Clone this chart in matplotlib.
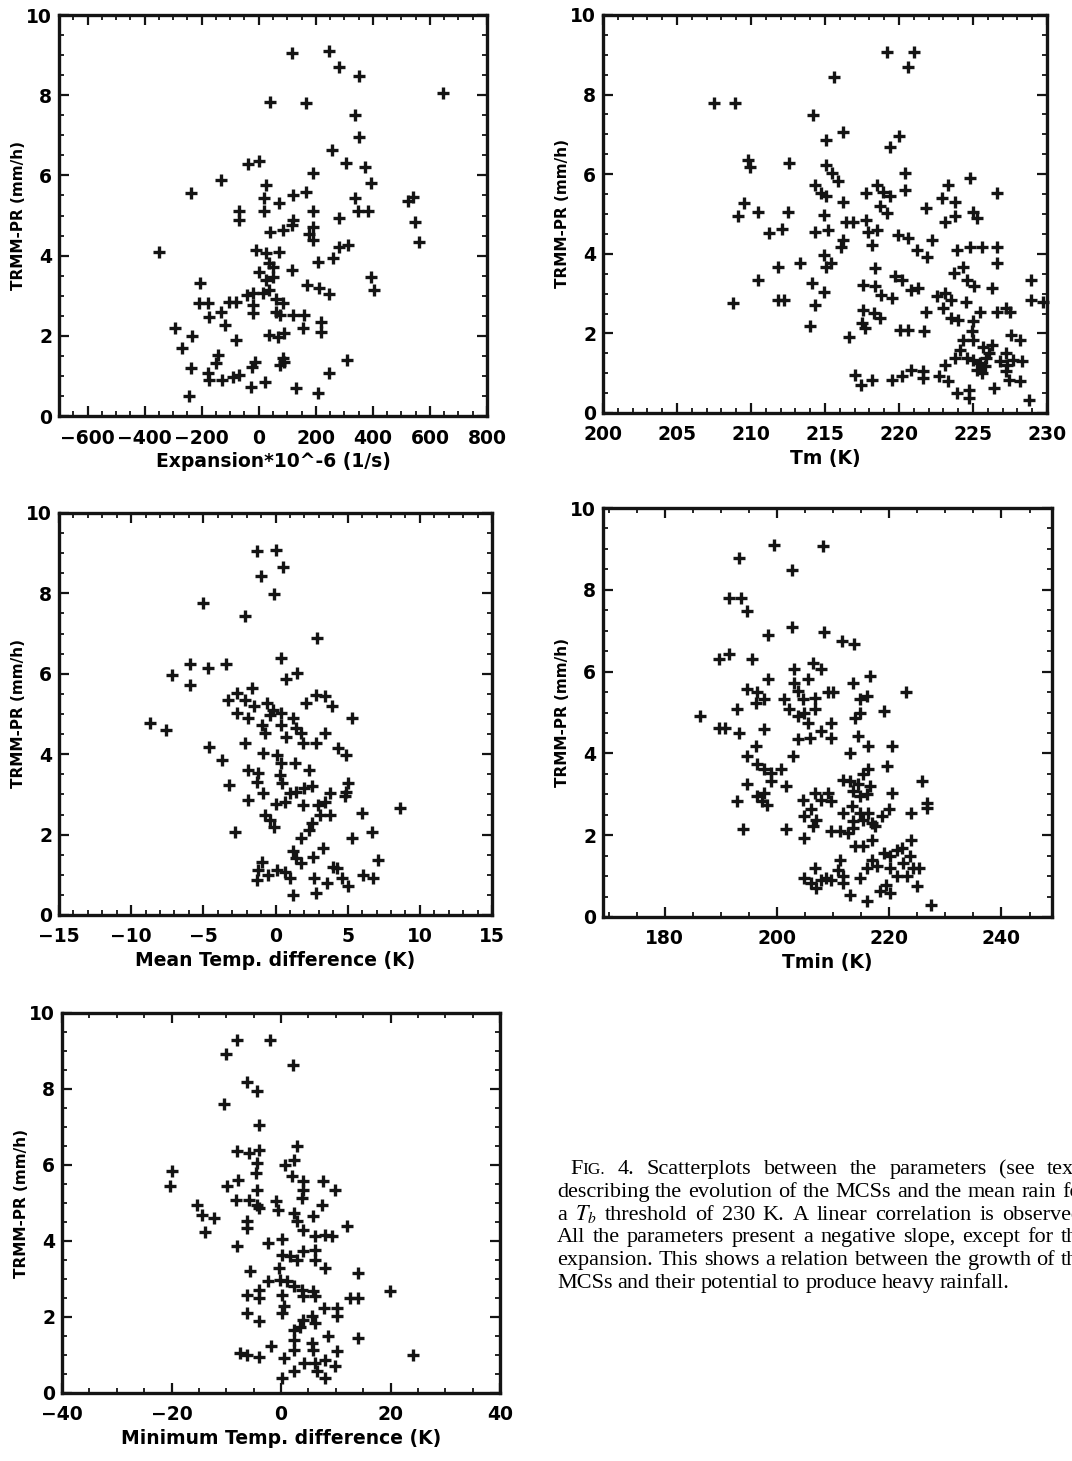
import numpy as np
import matplotlib
matplotlib.use("Agg")
import matplotlib.pyplot as plt
from matplotlib.ticker import MultipleLocator

# ---- data ----
# panel a: expansion rate vs rain
exp_x = [117, 248, 280, 351, 646, 40, 164, 336, 353, 257, 307, 373, -39, 0, -132, -238,
         189, 394, 26, 119, 164, 336, 347, 383, 523, 541, 547, 562, -68, -68, 20, 20,
         70, 119, 117, 189, 189, 177, 189, 283, 283, 312, 260, 207, 40, 84, -349, -9,
         26, 70, 35, 49, 0, 115, 26, 49, 169, 211, 246, 394, 405, -205, -208, -179,
         -173, -132, -103, -80, -42, -21, 14, 35, 61, 84, -21, -21, 61, 73, 119, 160,
         154, 218, 218, -117, -293, -234, -269, -80, 37, 67, 90, -144, -150, -238, -179,
         -173, -129, -91, -68, -23, -12, 84, 76, 90, 23, -27, -243, 129, 207, 248, 310]
exp_y = [9.04, 9.09, 8.7, 8.48, 8.05, 7.84, 7.81, 7.5, 6.95, 6.63, 6.3, 6.22, 6.28, 6.37,
         5.89, 5.55, 6.05, 5.8, 5.76, 5.51, 5.59, 5.43, 5.1, 5.1, 5.35, 5.47, 4.85, 4.35,
         5.1, 4.89, 5.43, 5.1, 5.3, 4.89, 4.76, 5.1, 4.72, 4.55, 4.39, 4.93, 4.22, 4.26,
         3.93, 3.85, 4.6, 4.64, 4.1, 4.14, 4.06, 4.1, 3.81, 3.72, 3.6, 3.64, 3.39, 3.47,
         3.27, 3.18, 3.04, 3.47, 3.14, 3.31, 2.81, 2.81, 2.48, 2.6, 2.85, 2.85, 3.02, 3.06,
         3.06, 3.14, 2.93, 2.81, 2.77, 2.56, 2.6, 2.52, 2.52, 2.52, 2.19, 2.35, 2.1, 2.27,
         2.19, 2.0, 1.69, 1.9, 2.02, 1.98, 2.06, 1.52, 1.31, 1.19, 1.06, 0.9, 0.9, 0.98,
         1.02, 1.23, 1.35, 1.44, 1.27, 1.35, 0.86, 0.73, 0.5, 0.69, 0.57, 1.06, 1.4]

# panel b: mean brightness temperature Tm
tm_x = [207.5, 208.9, 215.6, 219.2, 221.0, 220.6, 214.2, 215.1, 216.2, 219.4, 220.0, 209.8,
        209.9, 212.6, 215.1, 215.5, 215.9, 214.3, 214.7, 215.1, 216.2, 217.8, 218.5, 218.9,
        219.4, 218.7, 219.2, 220.4, 220.4, 221.8, 222.9, 223.3, 223.8, 224.8, 226.6, 225.0,
        225.3, 223.1, 223.8, 209.5, 209.1, 210.5, 212.5, 211.2, 212.1, 214.9, 214.3, 215.2,
        216.4, 216.9, 216.2, 216.1, 217.8, 217.9, 218.5, 218.2, 219.9, 220.6, 221.2, 221.9,
        222.2, 223.9, 224.8, 225.6, 226.6, 214.9, 215.4, 215.1, 213.3, 211.8, 210.5, 211.8,
        212.2, 208.8, 214.1, 214.9, 214.3, 214.0, 216.6, 218.4, 217.6, 218.4, 218.8, 219.5,
        219.7, 220.2, 220.8, 221.3, 217.6, 217.5, 217.7, 218.3, 218.7, 220.1, 220.6, 221.7,
        221.8, 222.6, 223.1, 223.5, 223.0, 223.7, 224.3, 224.6, 225.1, 226.3, 226.6, 223.5,
        224.0, 224.5, 225.0, 225.5, 226.6, 227.2, 227.5, 224.9, 224.3, 225.0, 225.7, 226.3,
        227.6, 228.2, 224.1, 223.8, 224.6, 225.0, 225.5, 225.8, 225.9, 226.1, 225.3, 225.6,
        227.2, 226.8, 227.3, 227.7, 228.3, 227.2, 227.4, 228.2, 223.1, 222.7, 223.3, 223.9,
        224.7, 224.7, 226.4, 228.8, 228.9, 228.9, 229.7, 217.0, 217.4, 218.2, 219.5, 220.2,
        220.8, 221.6, 221.6]
tm_y = [7.78, 7.78, 8.45, 9.08, 9.08, 8.7, 7.49, 6.85, 7.07, 6.69, 6.95, 6.36, 6.19, 6.28,
        6.23, 6.03, 5.82, 5.73, 5.52, 5.44, 5.31, 5.52, 5.73, 5.56, 5.44, 5.19, 5.02, 6.03,
        5.61, 5.15, 5.4, 5.73, 5.31, 5.9, 5.52, 5.06, 4.9, 4.81, 4.95, 5.27, 4.94, 5.06,
        5.06, 4.52, 4.62, 4.98, 4.56, 4.6, 4.81, 4.81, 4.35, 4.18, 4.85, 4.56, 4.6, 4.23,
        4.48, 4.39, 4.1, 3.93, 4.35, 4.1, 4.18, 4.18, 4.18, 3.97, 3.77, 3.68, 3.77, 3.68,
        3.35, 2.85, 2.85, 2.76, 3.26, 3.05, 2.72, 2.18, 1.92, 3.64, 3.22, 3.18, 2.97, 2.89,
        3.43, 3.35, 3.1, 3.14, 2.59, 2.26, 2.13, 2.51, 2.38, 2.09, 2.09, 2.05, 2.55, 2.93,
        3.01, 2.85, 2.64, 3.51, 3.68, 3.35, 3.18, 3.14, 3.77, 2.38, 2.34, 2.8, 2.3, 2.55,
        2.55, 2.64, 2.55, 2.05, 1.84, 1.84, 1.67, 1.72, 1.97, 1.84, 1.59, 1.38, 1.38, 1.34,
        1.26, 1.17, 1.38, 1.51, 1.09, 1.0, 1.51, 1.3, 1.21, 1.34, 1.3, 1.05, 0.84, 0.8,
        1.21, 0.92, 0.8, 0.5, 0.59, 0.38, 0.63, 0.33, 3.35, 2.85, 2.8, 0.96, 0.71, 0.84,
        0.84, 0.92, 1.09, 1.05, 0.88]

# panel c: mean temperature difference
dtm_x = [-1.3, 0.0, 0.55, -1.0, -0.1, -5.0, -2.1, 2.9, 0.4, -5.9, -4.7, -3.4, -7.2, -5.9,
         0.75, 1.5, -3.3, -2.7, -1.65, -2.7, -2.1, -1.5, -0.6, -0.15, 0.4, -0.4, 1.2, 2.1,
         2.8, 3.4, 3.9, 5.3, -1.9, -0.95, -0.7, 0.35, 0.75, 1.45, 1.8, 1.9, 2.8, 3.4, -8.7,
         -7.6, -4.6, -3.7, -2.1, 4.3, 4.9, -0.85, 0.1, 0.4, 1.35, 2.35, -1.9, -1.2, -1.3,
         0.3, 0.45, -3.25, 5.05, 4.9, 4.8, -0.85, -1.9, 1.0, 1.45, 2.0, 2.5, 3.8, 3.4, 0.65,
         0.0, 1.9, 2.95, 3.8, 3.05, -0.7, -0.35, -0.1, 2.5, 2.3, 1.8, 6.0, 6.7, 5.3, -2.8,
         8.65, 1.2, 1.45, 1.8, 2.6, 3.3, 4.0, -0.95, -1.2, -1.3, -0.5, 0.1, 0.65, 1.0, 1.2,
         2.7, 2.8, 3.6, 4.6, 5.05, 6.05, 6.75, 7.1, 4.25]
dtm_y = [9.05, 9.07, 8.66, 8.44, 7.99, 7.76, 7.43, 6.89, 6.39, 6.24, 6.14, 6.24, 5.98, 5.73,
         5.87, 6.02, 5.35, 5.52, 5.64, 5.02, 5.35, 5.19, 5.27, 5.1, 5.02, 4.98, 4.9, 5.27,
         5.48, 5.44, 5.19, 4.9, 4.9, 4.73, 4.52, 4.73, 4.44, 4.65, 4.52, 4.27, 4.27, 4.52,
         4.77, 4.61, 4.19, 3.86, 4.27, 4.15, 3.98, 4.02, 3.98, 3.78, 3.78, 3.61, 3.61, 3.53,
         3.32, 3.49, 3.28, 3.24, 3.28, 3.07, 2.95, 3.03, 2.86, 3.03, 3.07, 3.15, 3.21, 3.03,
         2.82, 2.82, 2.76, 2.74, 2.74, 2.49, 2.49, 2.49, 2.37, 2.2, 2.28, 2.12, 1.91, 2.53,
         2.07, 1.91, 2.07, 2.66, 1.58, 1.41, 1.29, 1.45, 1.66, 1.2, 1.33, 1.12, 0.87, 1.0,
         1.12, 1.08, 0.91, 0.5, 0.91, 0.54, 0.79, 0.91, 0.71, 1.0, 0.91, 1.37, 1.16]

# panel d: minimum brightness temperature Tmin
tmin_x = [199.4, 208.2, 193.2, 202.6, 191.4, 193.5, 194.7, 202.6, 198.4, 208.4, 211.5, 213.8,
          189.6, 191.4, 195.6, 198.4, 203.1, 203.1, 206.4, 207.9, 205.5, 203.7, 194.7, 192.9,
          196.5, 196.2, 197.7, 201.3, 202.2, 204.6, 206.7, 209.1, 210.0, 203.7, 204.9, 206.7,
          205.5, 186.3, 189.6, 190.8, 193.2, 197.7, 196.2, 194.7, 196.5, 197.7, 198.9, 200.7,
          202.8, 203.7, 205.8, 207.9, 209.7, 209.7, 198.9, 194.7, 192.8, 196.5, 197.7, 198.3,
          197.4, 201.6, 193.9, 201.6, 204.6, 204.9, 204.9, 206.1, 206.7, 207.0, 206.4, 207.9,
          209.1, 209.7, 209.7, 211.2, 211.8, 212.7, 211.8, 213.0, 213.6, 214.5, 215.4, 216.3,
          216.6, 214.8, 216.0, 213.3, 214.8, 213.6, 213.6, 215.4, 216.3, 213.0, 216.3, 214.5,
          213.9, 214.8, 214.8, 216.0, 213.6, 216.6, 219.0, 222.9, 220.5, 219.6, 220.5, 219.9,
          218.7, 217.5, 216.9, 223.8, 225.9, 226.8, 226.8, 223.8, 216.9, 215.4, 213.9, 219.0,
          220.1, 221.3, 222.2, 222.5, 223.7, 224.3, 223.1, 225.3, 225.0, 216.9, 216.0, 214.8,
          217.8, 220.1, 221.3, 219.5, 218.3, 220.1, 216.0, 213.0, 211.2, 210.9, 211.8, 211.8,
          209.7, 206.7, 204.9, 206.1, 207.0, 207.9, 208.8, 227.4]
tmin_y = [9.09, 9.08, 8.77, 8.49, 7.81, 7.81, 7.49, 7.08, 6.89, 6.96, 6.75, 6.67, 6.3, 6.42,
          6.3, 5.81, 6.07, 5.73, 6.22, 6.06, 5.81, 5.53, 5.57, 5.08, 5.49, 5.24, 5.32, 5.32,
          5.08, 5.32, 5.36, 5.49, 5.49, 4.91, 5.0, 5.08, 4.75, 4.91, 4.63, 4.63, 4.5, 4.59,
          4.18, 3.93, 3.73, 3.61, 3.53, 3.61, 3.93, 4.34, 4.38, 4.55, 4.75, 4.38, 3.32, 3.24,
          2.83, 2.96, 3.04, 2.75, 2.83, 3.2, 2.14, 2.14, 2.87, 2.47, 1.93, 2.63, 3.04, 2.38,
          2.22, 2.87, 3.04, 2.83, 2.1, 2.1, 2.55, 2.06, 3.36, 3.32, 3.08, 3.24, 3.49, 3.61,
          3.2, 2.96, 3.0, 2.71, 2.55, 2.34, 2.18, 2.38, 2.55, 4.02, 4.18, 4.42, 4.87, 5.0,
          5.32, 5.4, 5.73, 5.89, 5.04, 5.49, 4.18, 3.69, 3.04, 2.63, 2.47, 2.22, 2.3, 2.55,
          3.32, 2.79, 2.67, 1.89, 1.89, 1.73, 1.73, 1.57, 1.49, 1.65, 1.69, 1.32, 1.49, 1.2,
          1.0, 1.2, 0.75, 1.4, 1.2, 0.96, 1.24, 1.2, 1.0, 0.79, 0.63, 0.59, 0.38, 0.55, 1.4,
          1.16, 1.0, 0.83, 0.91, 1.2, 0.96, 0.83, 0.71, 0.91, 0.96, 0.3]

# panel e: minimum temperature difference
dtmin_x = [-8.1, -2.1, -10.0, 2.2, -6.2, -4.4, -10.4, -4.1, 2.9, -8.1, -5.9, -4.1, -4.4, 2.3,
           0.8, -4.5, -19.9, -20.2, -9.9, -7.9, -8.2, -5.9, -4.4, -4.3, -4.1, -0.85, -0.6,
           2.0, 4.0, 4.1, 3.8, 7.75, 9.9, 7.4, 5.8, 2.3, 2.9, 4.1, 6.2, 8.1, 9.3, 12.0, -15.4,
           -14.5, -12.3, -13.8, -6.2, -6.2, -8.1, -2.3, 0.2, 0.2, 1.7, 2.9, 4.1, 6.2, 6.2, 8.1,
           -0.4, -0.1, -2.3, 1.1, 2.3, 3.8, 4.1, 5.8, 6.2, -5.6, -6.2, -4.1, -4.1, -6.2, -4.1,
           0.2, 0.5, 0.2, 7.8, 10.2, 10.2, 4.1, 3.5, 5.6, 6.2, 2.3, 2.3, 2.3, 5.6, 5.9, 8.6,
           10.2, 14.1, 12.6, 14.1, 14.1, 19.9, 24.2, -7.5, -6.2, -4.1, -1.9, 0.5, 0.2, 2.3,
           4.2, 6.2, 6.5, 8.1, 8.1, 9.9]
dtmin_y = [9.28, 9.28, 8.93, 8.64, 8.18, 7.94, 7.61, 7.06, 6.49, 6.36, 6.32, 6.4, 6.05, 6.14,
           6.01, 5.79, 5.83, 5.44, 5.44, 5.61, 5.09, 5.09, 5.35, 4.96, 4.87, 5.04, 4.82, 5.7,
           5.57, 5.35, 5.13, 5.57, 5.35, 4.96, 4.65, 4.74, 4.52, 4.3, 4.12, 4.17, 4.12, 4.39,
           4.96, 4.69, 4.61, 4.25, 4.52, 4.34, 3.86, 3.95, 4.04, 3.64, 3.6, 3.51, 3.73, 3.77,
           3.51, 3.29, 3.29, 2.98, 2.94, 2.94, 2.81, 2.72, 2.54, 2.68, 2.54, 3.2, 2.59, 2.72,
           2.5, 2.1, 1.89, 2.59, 2.28, 2.1, 2.24, 2.24, 2.02, 1.93, 1.75, 2.02, 1.84, 1.67,
           1.4, 1.14, 1.32, 1.14, 1.49, 1.1, 3.16, 2.5, 2.5, 1.45, 2.68, 1.01, 1.05, 1.01,
           0.96, 1.23, 0.92, 0.39, 0.57, 0.79, 0.79, 0.57, 0.39, 0.88, 0.7]

y_ticks = [0, 2, 4, 6, 8, 10]

caption = [
    ["FIG.", "4.", "Scatterplots", "between", "the", "parameters", "(see", "text)"],
    ["describing", "the", "evolution", "of", "the", "MCSs", "and", "the", "mean", "rain", "for"],
    ["a", "$T_b$", "threshold", "of", "230", "K.", "A", "linear", "correlation", "is", "observed."],
    ["All", "the", "parameters", "present", "a", "negative", "slope,", "except", "for", "the"],
    ["expansion.", "This", "shows", "a", "relation", "between", "the", "growth", "of", "the"],
    ["MCSs", "and", "their", "potential", "to", "produce", "heavy", "rainfall."],
]

W, H = 1072, 1461
plt.rcParams['mathtext.fontset'] = 'stix'
fig = plt.figure(figsize=(W / 100, H / 100), dpi=100)
fig.patch.set_facecolor("white")


def box(l, t, r, b):
    return [l / W, 1 - b / H, (r - l) / W, (b - t) / H]


ink = "#141414"
panels = [
    (box(59, 15, 487, 416), exp_x, exp_y, (-700, 800), 200, 50, "Expansion*10^-6 (1/s)"),
    (box(603, 15, 1047, 413), tm_x, tm_y, (200, 230), 5, 1, "Tm (K)"),
    (box(59, 513, 492, 915), dtm_x, dtm_y, (-15, 15), 5, 1, "Mean Temp. difference (K)"),
    (box(603, 508, 1052, 917), tmin_x, tmin_y, (169, 249), 20, 5, "Tmin (K)"),
    (box(62, 1013, 500, 1393), dtmin_x, dtmin_y, (-40, 40), 20, 5, "Minimum Temp. difference (K)"),
]

for rect, xs, ys, xlim, major, minor, xlabel in panels:
    ax = fig.add_axes(rect)
    ax.plot(xs, ys, ls="none", marker="+", ms=8, mew=2.4, color=ink, clip_on=False)
    ax.set_xlim(*xlim)
    ax.set_ylim(0, 10)
    ax.set_yticks(y_ticks)
    ax.xaxis.set_major_locator(MultipleLocator(major))
    ax.xaxis.set_minor_locator(MultipleLocator(minor))
    ax.yaxis.set_minor_locator(MultipleLocator(0.5))
    ax.tick_params(which="both", direction="in", top=True, right=True, color=ink)
    ax.tick_params(which="major", length=7, width=1.6, labelsize=13.5)
    ax.tick_params(axis="x", which="major", pad=9)
    ax.tick_params(axis="y", which="major", pad=5)
    ax.tick_params(which="minor", length=3.5, width=1.3)
    for lab in ax.get_xticklabels() + ax.get_yticklabels():
        lab.set_fontweight("bold")
    for sp in ax.spines.values():
        sp.set_linewidth(2.4)
        sp.set_color(ink)
    ax.set_xlabel(xlabel, fontsize=13.5, fontweight="bold", labelpad=3)
    ax.set_ylabel("TRMM-PR (mm/h)", fontsize=11, fontweight="bold", labelpad=0)

# caption, set as justified lines of Times-like text
renderer = fig.canvas.get_renderer()
fs = 16
left, right, y0, dy = 557, 1088, 1174, 22.8
for i, words in enumerate(caption):
    y = 1 - (y0 + i * dy) / H
    x_start = left + (13 if i == 0 else 0)
    items = []
    for w in words:
        if w == "FIG.":
            t1 = fig.text(0, y, "F", fontsize=fs, family="Liberation Serif")
            t2 = fig.text(0, y, "IG.", fontsize=fs * 0.78, family="Liberation Serif")
            w1 = t1.get_window_extent(renderer).width
            w2 = t2.get_window_extent(renderer).width
            items.append(([t1, t2], [0, w1], w1 + w2))
        else:
            t = fig.text(0, y, w, fontsize=fs, family="Liberation Serif")
            items.append(([t], [0], t.get_window_extent(renderer).width))
    total = sum(it[2] for it in items)
    if i < len(caption) - 1:
        gap = (right - x_start - total) / (len(items) - 1)
    else:
        gap = 5.0
    x = x_start
    for texts, offs, wd in items:
        for t, o in zip(texts, offs):
            t.set_x((x + o) / W)
        x += wd + gap

fig.savefig("out.png", dpi=100, facecolor="white")
